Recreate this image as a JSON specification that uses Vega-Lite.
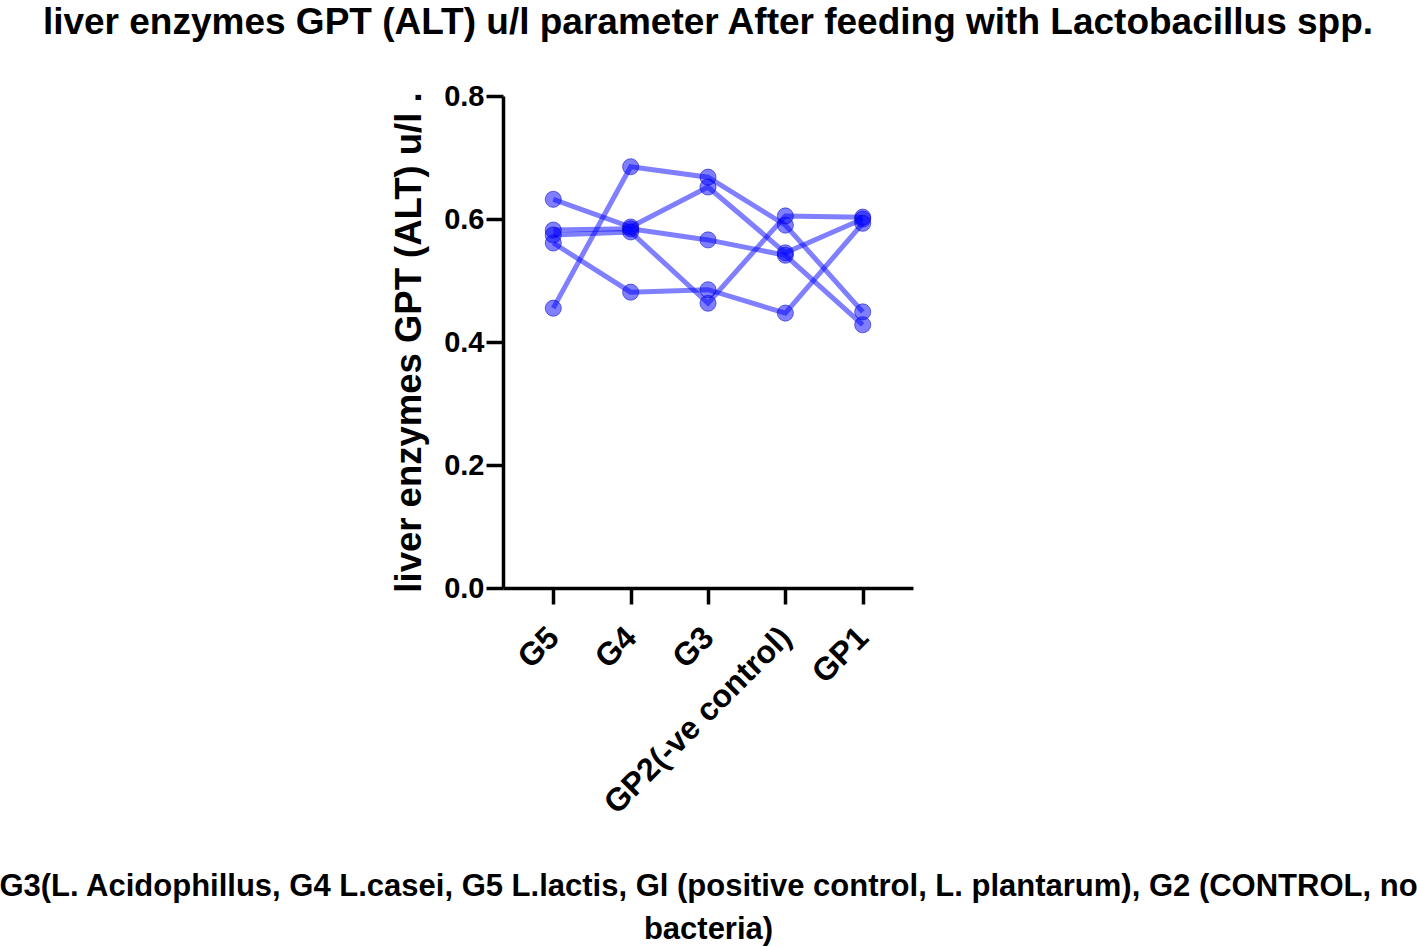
{
  "$schema": "https://vega.github.io/schema/vega-lite/v6.json",
  "autosize": "none",
  "width": 410,
  "height": 492,
  "padding": {"left": 503, "top": 96, "right": 504, "bottom": 359},
  "background": "white",
  "title": {
    "text": "liver enzymes GPT (ALT) u/l parameter After feeding with Lactobacillus spp.",
    "font": "Liberation Sans",
    "fontSize": 37,
    "fontWeight": "bold",
    "color": "black",
    "anchor": "middle",
    "frame": "group",
    "offset": 40
  },
  "data": {
    "values": [
      {"group": "G5", "subject": "A", "value": 0.455},
      {"group": "G4", "subject": "A", "value": 0.685},
      {"group": "G3", "subject": "A", "value": 0.668},
      {"group": "GP2(-ve control)", "subject": "A", "value": 0.590},
      {"group": "GP1", "subject": "A", "value": 0.449},
      {"group": "G5", "subject": "B", "value": 0.632},
      {"group": "G4", "subject": "B", "value": 0.587},
      {"group": "G3", "subject": "B", "value": 0.652},
      {"group": "GP2(-ve control)", "subject": "B", "value": 0.545},
      {"group": "GP1", "subject": "B", "value": 0.600},
      {"group": "G5", "subject": "C", "value": 0.582},
      {"group": "G4", "subject": "C", "value": 0.584},
      {"group": "G3", "subject": "C", "value": 0.566},
      {"group": "GP2(-ve control)", "subject": "C", "value": 0.541},
      {"group": "GP1", "subject": "C", "value": 0.428},
      {"group": "G5", "subject": "D", "value": 0.574},
      {"group": "G4", "subject": "D", "value": 0.579},
      {"group": "G3", "subject": "D", "value": 0.463},
      {"group": "GP2(-ve control)", "subject": "D", "value": 0.605},
      {"group": "GP1", "subject": "D", "value": 0.603},
      {"group": "G5", "subject": "E", "value": 0.561},
      {"group": "G4", "subject": "E", "value": 0.481},
      {"group": "G3", "subject": "E", "value": 0.485},
      {"group": "GP2(-ve control)", "subject": "E", "value": 0.447},
      {"group": "GP1", "subject": "E", "value": 0.593}
    ]
  },
  "encoding": {
    "x": {
      "field": "group",
      "type": "nominal",
      "sort": ["G5", "G4", "G3", "GP2(-ve control)", "GP1"],
      "scale": {"type": "point", "padding": 0.65},
      "axis": {
        "title": ["G3(L. Acidophillus, G4  L.casei, G5 L.lactis, Gl (positive control, L. plantarum), G2 (CONTROL, no", "bacteria)"],
        "titleFont": "Liberation Sans",
        "titleFontSize": 31,
        "titleFontWeight": "bold",
        "titleColor": "black",
        "titleBaseline": "alphabetic",
        "titleLineHeight": 43,
        "titleY": 307,
        "labelAngle": -45,
        "labelAlign": "right",
        "labelBaseline": "middle",
        "labelFont": "Liberation Sans",
        "labelFontSize": 32,
        "labelFontWeight": "bold",
        "labelColor": "black",
        "labelPadding": 28,
        "labelOverlap": false,
        "labelLimit": 0,
        "tickSize": 16,
        "tickWidth": 3.5,
        "tickColor": "black",
        "domainWidth": 3.5,
        "domainColor": "black",
        "grid": false
      }
    },
    "y": {
      "field": "value",
      "type": "quantitative",
      "scale": {"domain": [0, 0.8], "nice": false},
      "axis": {
        "title": "liver enzymes GPT (ALT) u/l .",
        "titleFont": "Liberation Sans",
        "titleFontSize": 36.5,
        "titleFontWeight": "bold",
        "titleColor": "black",
        "titlePadding": 15,
        "values": [0, 0.2, 0.4, 0.6, 0.8],
        "format": ".1f",
        "labelFont": "Liberation Sans",
        "labelFontSize": 29,
        "labelFontWeight": "bold",
        "labelColor": "black",
        "labelPadding": 2,
        "tickSize": 17,
        "tickWidth": 3.5,
        "tickColor": "black",
        "domainWidth": 3.5,
        "domainColor": "black",
        "grid": false
      }
    }
  },
  "layer": [
    {
      "mark": {"type": "line", "color": "#0000ff", "opacity": 0.5, "strokeWidth": 5},
      "encoding": {"detail": {"field": "subject"}}
    },
    {
      "mark": {"type": "point", "filled": true, "color": "#0000ff", "fillOpacity": 0.5, "stroke": "#0000c0", "strokeOpacity": 0.5, "strokeWidth": 1, "size": 260}
    }
  ],
  "config": {"view": {"stroke": null}}
}
